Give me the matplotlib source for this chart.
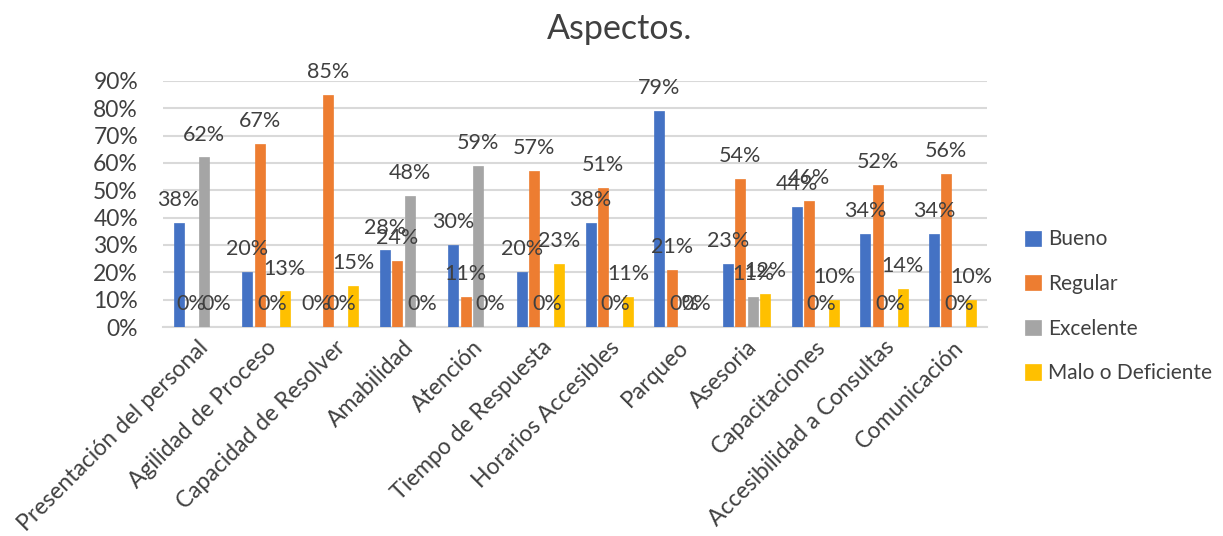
import matplotlib
matplotlib.use("Agg")
import matplotlib.pyplot as plt
import numpy as np

categories = ["Presentación del personal", "Agilidad de Proceso", "Capacidad de Resolver",
              "Amabilidad", "Atención", "Tiempo de Respuesta", "Horarios Accesibles",
              "Parqueo", "Asesoria", "Capacitaciones", "Accesibilidad a Consultas", "Comunicación"]
bueno = [38, 20, 0, 28, 30, 20, 38, 79, 23, 44, 34, 34]
regular = [0, 67, 85, 24, 11, 57, 51, 21, 54, 46, 52, 56]
excelente = [62, 0, 0, 48, 59, 0, 0, 0, 11, 0, 0, 0]
malo = [0, 13, 15, 0, 0, 23, 11, 0, 12, 10, 14, 10]
series_names = ["Bueno", "Regular", "Excelente", "Malo o Deficiente"]
colors = ["#4472C4", "#ED7D31", "#A5A5A5", "#FFC000"]
yticks = [0, 10, 20, 30, 40, 50, 60, 70, 80, 90]

plt.rcParams['font.family'] = ['Lato', 'DejaVu Sans']
txt = "#404040"

fig = plt.figure(figsize=(12.23, 5.36), dpi=100)
ax = fig.add_axes([0.1333, 0.3899, 0.807 - 0.1333, 0.849 - 0.3899])

x = np.arange(len(categories))
step = 0.182
width = 0.146
for i, (vals, name, c) in enumerate(zip([bueno, regular, excelente, malo], series_names, colors)):
    pos = x + (i - 1.5) * step
    ax.bar(pos, [v / 100 for v in vals], width=width, color=c, label=name, zorder=3,
           edgecolor=c, linewidth=0.5)
    for p, v in zip(pos, vals):
        ax.annotate(f"{v}%", (p, v / 100), xytext=(0, 16.5), textcoords="offset points",
                    ha="center", va="center", fontsize=15.5, color=txt, zorder=4)

ax.set_xlim(-0.5, len(categories) - 0.5)
ax.set_ylim(0, 0.9)
ax.set_yticks([t / 100 for t in yticks])
ax.set_yticklabels([f"{t}%" for t in yticks], fontsize=16.5, color=txt)
ax.set_xticks(x)
ax.set_xticklabels(categories, rotation=45, ha="right", rotation_mode="anchor",
                   fontsize=16.5, color=txt)
ax.tick_params(axis="y", length=0, pad=18)
ax.tick_params(axis="x", length=0, pad=7)
ax.grid(axis="y", color="#D9D9D9", linewidth=1.5, zorder=0)
for s in ["top", "right", "left"]:
    ax.spines[s].set_visible(False)
ax.spines["bottom"].set_color("#D9D9D9")
ax.spines["bottom"].set_linewidth(1.5)

fig.text(0.507, 0.945, "Aspectos.", ha="center", va="center", fontsize=24.5, color=txt)

leg = fig.legend(loc="upper left", bbox_to_anchor=(0.823, 0.607), frameon=False,
                 fontsize=15, labelcolor=txt, handlelength=0.75, handleheight=0.75,
                 handletextpad=0.35, labelspacing=1.18)

fig.savefig("out.png", dpi=100)
